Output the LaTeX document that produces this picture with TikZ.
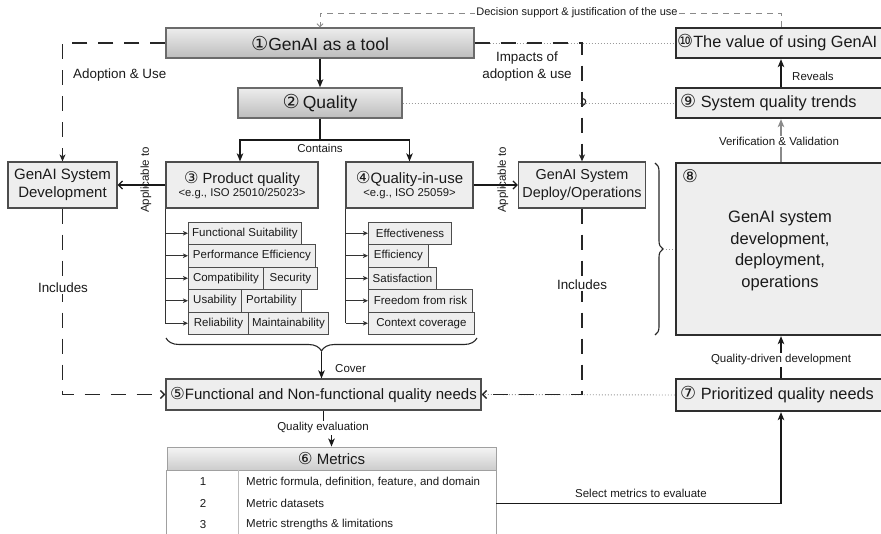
\documentclass[tikz,border=0pt]{standalone}
\usepackage{fontspec}
\setmainfont{Liberation Sans}
\newfontfamily\numfont{DejaVu Sans}
\usetikzlibrary{arrows.meta,calc,decorations.pathreplacing}

\definecolor{ink}{HTML}{1A1A1A}
\definecolor{boxfill}{HTML}{EEEEEE}
\definecolor{edge}{HTML}{4D4D4D}
\definecolor{heavy}{HTML}{2E2E2E}
\definecolor{dotgray}{HTML}{9A9A9A}
\definecolor{dashgray}{HTML}{8A8A8A}
\definecolor{tablegray}{HTML}{A0A0A0}

% circled step numbers, slightly enlarged
\newcommand{\stepnum}[1]{{\numfont\scalebox{1.1}{#1}}}

\tikzset{
  big/.style={font=\fontsize{17.5}{21}\selectfont},
  rtf/.style={font=\fontsize{16.3}{20}\selectfont},
  mid/.style={font=\fontsize{15}{18}\selectfont},
  lab/.style={font=\fontsize{13.4}{16.5}\selectfont},
  sml/.style={font=\fontsize{11.5}{13.5}\selectfont},
  gbox/.style={draw=black!58, line width=1.4pt, top color=white!93!black,
    bottom color=black!26, inner sep=0pt, text=ink},
  lbox/.style={draw=edge, line width=1.2pt, fill=boxfill, inner sep=0pt,
    text=ink, align=center},
  hbox/.style={draw=heavy, line width=2.3pt, fill=boxfill, inner sep=0pt},
  itembox/.style={draw=edge, line width=0.9pt, fill=boxfill, inner sep=0pt,
    minimum height=22.5pt, text=ink, sml},
  txt/.style={inner sep=1pt, text=ink},
  wlab/.style={inner sep=1.5pt, text=ink, fill=white},
  conn/.style={draw=black!90, line width=1.3pt},
  arr/.style={conn, -{Stealth[length=8pt,width=6.5pt,inset=2pt]}},
  tinyarr/.style={draw=black!80, line width=0.9pt,
    -{Stealth[length=5pt,width=4.5pt,inset=1.2pt]}},
  dsh/.style={draw=black!85, line width=1.4pt, dash pattern=on 15pt off 11pt},
  dsharr/.style={dsh, -{Stealth[length=7pt,width=6pt,inset=2pt]}},
  dshopen/.style={dsh, -{Straight Barb[length=4pt,width=8pt]}},
  openarr/.style={conn, -{Straight Barb[length=4pt,width=8pt]}},
  dotln/.style={draw=dotgray, line width=0.9pt, dash pattern=on 1pt off 2pt},
  gdash/.style={draw=dashgray, line width=0.9pt, dash pattern=on 6pt off 5pt,
    -{Straight Barb[length=3pt,width=6pt]}},
  bracestyle/.style={draw=black!85, line width=1.1pt,
    decorate, decoration={brace, amplitude=7pt}},
}

\begin{document}
\begin{tikzpicture}[x=1pt,y=-1pt]
\clip (0,0) rectangle (881,534);
\useasboundingbox (0,0) rectangle (881,534);

% ---------- top row ----------
\node[gbox, big, minimum width=308pt, minimum height=30pt] (t1) at (320,43)
  {\stepnum{①}GenAI as a tool};
\node[gbox, big, minimum width=164pt, minimum height=30pt] (t2) at (320,103)
  {\stepnum{②}\,Quality};

% ---------- right column ----------
\node[hbox, minimum width=224pt, minimum height=30pt] (b10) at (788,43) {};
\node[txt, font=\fontsize{16.3}{20}\selectfont, anchor=west] (b10t) at (676,43) {\stepnum{⑩}The value of using GenAI};
\node[hbox, minimum width=224pt, minimum height=30pt] (b9) at (788,103) {};
\node[txt, rtf, anchor=west] (b9t) at (679,103) {\stepnum{⑨} System quality trends};
\node[hbox, minimum width=224pt, minimum height=172pt] (b8) at (788,249) {};
\node[txt, font=\fontsize{16}{19}\selectfont] (b8n) at (690,176) {\stepnum{⑧}};
\node[txt, align=center, font=\fontsize{16.5}{21.5}\selectfont] (b8t) at (780,251)
  {GenAI system\\development,\\deployment,\\operations};
\node[hbox, minimum width=224pt, minimum height=32pt] (b7) at (788,395) {};
\node[txt, rtf, anchor=west] (b7t) at (679,395) {\stepnum{⑦} Prioritized quality needs};

% ---------- second row ----------
\node[lbox, mid, minimum width=109pt, minimum height=46pt] (dev) at (62.5,185)
  {GenAI System\\Development};
\node[lbox, font=\fontsize{14.4}{18}\selectfont, minimum width=127pt, minimum height=46pt]
  (dep) at (582,185) {GenAI System\\Deploy/Operations};
\node[lbox, minimum width=152pt, minimum height=46pt] (q3) at (242,185)
  {{\fontsize{14.7}{18}\selectfont\stepnum{③} Product quality}\\[1pt]
   {\fontsize{11.3}{13}\selectfont <e.g., ISO 25010/25023>}};
\node[lbox, minimum width=127pt, minimum height=46pt] (q4) at (409.5,185)
  {{\fontsize{15}{18}\selectfont\stepnum{④}Quality-in-use}\\[1pt]
   {\fontsize{11.3}{13}\selectfont <e.g., ISO 25059>}};

% ---------- product quality characteristics ----------
\node[itembox, anchor=west, minimum width=113pt] (fs)   at (188,233.25) {Functional Suitability};
\node[itembox, anchor=west, minimum width=127pt] (pe)   at (188,255.75) {Performance Efficiency};
\node[itembox, anchor=west, minimum width=75pt]  (comp) at (188,278.25) {Compatibility};
\node[itembox, anchor=west, minimum width=54pt]  (sec)  at (263,278.25) {Security};
\node[itembox, anchor=west, minimum width=53pt]  (us)   at (188,300.75) {Usability};
\node[itembox, anchor=west, minimum width=60pt]  (port) at (241,300.75) {Portability};
\node[itembox, anchor=west, minimum width=60pt]  (rel)  at (188,323.25) {Reliability};
\node[itembox, anchor=west, minimum width=80pt]  (mnt)  at (248,323.25) {Maintainability};

% ---------- quality-in-use characteristics ----------
\node[itembox, anchor=west, minimum width=83pt]  (eff)  at (368,233.25) {Effectiveness};
\node[itembox, anchor=west, minimum width=60pt]  (effi) at (368,255.75) {Efficiency};
\node[itembox, anchor=west, minimum width=68pt]  (sat)  at (368,278.25) {Satisfaction};
\node[itembox, anchor=west, minimum width=104pt] (free) at (368,300.75) {Freedom from risk};
\node[itembox, anchor=west, minimum width=106pt] (ctx)  at (368,323.25) {Context coverage};

% ---------- quality needs and metrics ----------
\node[lbox, mid, minimum width=315pt, minimum height=31pt] (f5) at (323.5,394.5)
  {\stepnum{⑤}Functional and Non-functional quality needs};

\node[draw=tablegray, line width=0.9pt, top color=white!96!black, bottom color=black!20,
  minimum width=329pt, minimum height=23pt, inner sep=0pt, text=ink, mid]
  (mt) at (331.5,458.5) {\stepnum{⑥} Metrics};
\draw[draw=tablegray, line width=0.9pt, fill=white] (mt.south west) rectangle ($(mt.south east)+(0,100)$);
\draw[draw=tablegray!70, line width=0.8pt] ($(mt.south west)+(72,0)$) -- ++(0,100);
\node[txt, sml] (m1) at (203,482) {1};
\node[txt, sml] (m2) at (203,503.5) {2};
\node[txt, sml] (m3) at (203,525) {3};
\node[txt, sml, anchor=west] (m1t) at (245,482) {Metric formula, definition, feature, and domain};
\node[txt, sml, anchor=west] (m2t) at (245,503.5) {Metric datasets};
\node[txt, sml, anchor=west] (m3t) at (245,525) {Metric strengths \& limitations};

% ---------- dotted guide lines ----------
\draw[dotln] (t1.east) -- (b10.west);
\draw[dotln] (t2.east) -- (b9.west);
\draw[dotln] (b7.west) -- (f5.east);

% ---------- main flow ----------
\draw[arr] (t1.south) -- (t2.south |- t2.north);
\coordinate (ct) at (320,140);
\draw[conn] (t2.south) -- (ct);
\draw[arr] (ct) -| ($(q3.north)+(-2,0)$);
\draw[arr] (ct) -| (q4.north);
\node[txt, sml] (contains) at (320,148) {Contains};

\draw[openarr] (q3.west) -- (dev.east);
\node[txt, sml, rotate=90] (app1) at (146,180) {Applicable to};
\draw[openarr] (q4.east) -- (dep.west);
\node[txt, sml, rotate=90] (app2) at (503,180) {Applicable to};

% characteristics branches
\draw[draw=black!80, line width=0.9pt] (q3.south west) -- (q3.south west |- rel.west);
\foreach \n in {fs,pe,comp,us,rel}
  \draw[tinyarr] (q3.south west |- \n.west) -- (\n.west);
\draw[draw=black!80, line width=0.9pt] ($(q4.south west)+(0.5,0)$) -- ($(q4.south west |- ctx.west)+(0.5,0)$);
\foreach \n in {eff,effi,sat,free,ctx}
  \draw[tinyarr] ($(q4.south west |- \n.west)+(0.5,0)$) -- (\n.west);

% brace over both characteristic groups
\draw[bracestyle, decoration={amplitude=13pt}] (477,338) -- (166,338);
\coordinate (brtip) at (321.5,352);
\draw[arr] (brtip) -- (brtip |- f5.north);
\node[txt, sml, anchor=west] (cover) at (334,369) {Cover};

% adoption / impacts (dashed)
\draw[dsharr] (t1.west) -| (dev.north);
\node[txt, lab, anchor=west] (adopt) at (72,75) {Adoption \& Use};
\draw[dsharr] (t1.east) -| (dep.north);
\node[txt, lab, align=center] (impact) at (527,66.5) {Impacts of\\adoption \& use};
\draw[draw=black!85, line width=1.1pt] (582,98.5) .. controls (587,98.5) and (587,104) .. (582,106);

% includes (dashed)
\draw[dshopen] (dev.south) |- (f5.west);
\node[wlab, lab] (inc1) at (63,288) {Includes};
\draw[dshopen] (dep.south) |- (f5.east);
\node[wlab, lab] (inc2) at (582,285) {Includes};

% quality evaluation
\node[wlab, sml] (qe) at (323,428) {Quality evaluation};
\draw[conn] (f5.south) -- (qe.north -| f5.south);
\draw[arr] (qe.south -| mt.north) -- (mt.north);

% metrics to prioritized needs
\coordinate (rx) at (781,0);
\draw[arr] ($(mt.south east)+(0,33)$) -| (b7.south -| rx);
\node[txt, sml] (sel) at (641,493) {Select metrics to evaluate};

% right column flow
\draw[arr] (b7.north -| rx) -- (b8.south -| rx);
\node[wlab, sml] (qdd) at (781,360) {Quality-driven development};
\draw[draw=dashgray, line width=1.3pt, -{Stealth[length=8pt,width=6.5pt,inset=2pt]}]
  (b8.north -| rx) -- (b9.south -| rx);
\node[wlab, sml] (vv) at (779,141.5) {Verification \& Validation};
\draw[arr] (b9.north -| rx) -- (b10.south -| rx);
\node[txt, sml, anchor=west] (rev) at (791,76) {Reveals};

% deploy brace towards the system box
\draw[bracestyle, decoration={amplitude=8pt}] (655,163) -- (655,335);
\coordinate (br2) at (663,249);
\draw[dotln] (br2) -- (br2 -| b8.west);

% decision support loop
\coordinate (dtop) at (560,13);
\draw[gdash] (b10.north -| rx) -- (rx |- dtop) -| (t1.north);
\node[wlab, sml, font=\fontsize{11}{13}\selectfont] (dec) at (577,13)
  {Decision support \& justification of the use};
\end{tikzpicture}
\end{document}
